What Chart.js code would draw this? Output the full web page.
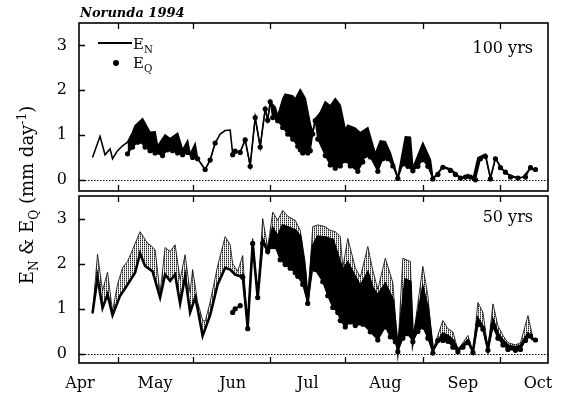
<!DOCTYPE html>
<html><head><meta charset="utf-8">
<script src="https://cdn.jsdelivr.net/npm/chart.js@4.4.0/dist/chart.umd.min.js"></script>
<style>
html,body{margin:0;padding:0;background:#fff;}
#wrap{position:relative;width:565px;height:395px;overflow:hidden;font-family:'DejaVu Serif',serif;color:#000;background:#fff;}
canvas{position:absolute;left:0;}
.t{position:absolute;white-space:nowrap;line-height:1;}
sub,sup{font-size:68%;line-height:0;}
</style></head><body>
<div id="wrap">
<canvas id="c1" width="565" height="195" style="top:0"></canvas>
<canvas id="c2" width="565" height="203" style="top:192px"></canvas>
<div class="t" style="left:80px;top:6px;font-size:13px;font-style:italic;font-weight:bold;">Norunda 1994</div>
<div style="position:absolute;left:98px;top:42px;width:34px;height:2px;background:#000;"></div>
<div class="t" style="left:133px;top:37px;font-size:15px;">E<sub>N</sub></div>
<div style="position:absolute;left:113px;top:60px;width:6px;height:6px;border-radius:50%;background:#000;"></div>
<div class="t" style="left:133px;top:56px;font-size:15px;">E<sub>Q</sub></div>
<div class="t" style="right:32px;top:40px;font-size:16px;">100 yrs</div>
<div class="t" style="right:32px;top:209px;font-size:16px;">50 yrs</div>
<div class="t" style="left:-93px;top:186px;width:240px;text-align:center;font-size:18px;transform:rotate(-90deg);">E<sub>N</sub> &amp; E<sub>Q</sub> (mm day<sup>-1</sup>)</div>
</div>
<script>
// ---- axis data ----
const monthLabels = ['Apr','May','Jun','Jul','Aug','Sep','Oct'];
const monthStartDays = [0,30,61,91,122,153,183];   // days after 1 April
const midMonthDays = [15,45,76,106,137,168];
const yTicks = [0,1,2,3];

// ---- 100 yrs panel ----
const topENDays = [5,8,10,12,13,15,17,19,21,22,25,28,30,31,34,36,39,41,43,44,46,47,50,52,54,56,58,60,61,63,64,66,68,70,72,74,75,76,78,79,81,82,85,86,88,90,92,93,94,96,98,100,102,104,106,107,110,112,115,118,120,122,124,127,130,132,133,137,140,141,143,145,148,150,152,154,155,157,159,162,164,166,168,170,172,175,177,180,182];
const topEN = [0.50,0.97,0.56,0.69,0.47,0.65,0.76,0.84,1.06,1.21,1.36,1.06,1.07,0.75,1.00,0.92,1.04,0.67,0.87,0.57,0.80,0.47,0.23,0.44,0.82,1.02,1.10,1.11,0.58,0.62,0.62,0.90,0.32,1.39,0.74,1.58,1.33,1.74,1.62,1.42,1.80,1.91,1.87,1.80,2.01,1.82,1.25,1.05,1.36,1.50,1.74,1.65,1.81,1.66,1.12,1.22,1.15,1.05,1.16,0.58,0.87,0.85,0.60,0.04,0.96,0.95,0.26,0.82,0.45,0.03,0.15,0.30,0.24,0.15,0.04,0.08,0.12,0.01,0.49,0.57,0.04,0.49,0.30,0.15,0.10,0.04,0.06,0.26,0.19];
const topEQDays = [19,21,23,24,26,28,30,33,35,37,39,41,43,45,47,50,52,54,57,61,62,64,66,68,70,72,74,75,76,77,79,81,83,85,87,88,89,91,92,93,94,95,98,100,102,104,106,108,111,113,114,116,119,121,123,125,127,129,131,133,135,137,139,141,143,145,148,150,152,154,156,158,160,162,164,166,168,170,172,175,178,180,182];
const topEQ = [0.58,0.73,0.84,0.86,0.73,0.65,0.60,0.54,0.67,0.65,0.60,0.56,0.61,0.50,0.47,0.23,0.44,0.82,null,0.56,0.64,0.61,0.89,0.30,1.39,0.73,1.58,1.33,1.74,1.39,1.32,1.17,1.02,0.91,0.75,0.67,0.60,0.60,0.65,1.02,1.32,0.91,0.54,0.33,0.26,0.31,0.43,0.31,0.19,0.40,0.54,0.51,0.19,0.47,0.47,0.31,0.03,0.35,0.30,0.20,0.30,0.45,0.30,0.02,0.12,0.28,0.21,0.12,0.04,0.06,0.06,0.00,0.47,0.52,0.02,0.47,0.27,0.17,0.06,0.04,0.06,0.27,0.23];

// ---- 50 yrs panel ----
const botUpperDays = [5,7,9,11,13,15,17,19,21,24,27,28,30,32,34,36,38,40,42,44,45,47,49,50,52,55,58,60,61,63,65,67,69,71,73,75,77,79,81,83,86,88,90,91,93,95,98,100,102,104,105,107,110,112,115,117,119,122,125,127,129,132,133,137,139,141,145,147,149,151,155,157,159,161,163,165,167,169,171,174,176,179,181];
const botUpper = [0.90,2.21,1.40,1.81,0.95,1.54,1.91,2.05,2.31,2.71,2.45,2.42,2.31,1.35,2.36,2.27,2.42,1.65,2.20,1.36,1.87,1.15,0.75,0.72,1.15,1.95,2.60,2.42,2.00,1.83,2.18,0.62,2.56,1.30,3.00,2.35,3.14,2.96,3.18,3.05,2.96,2.74,2.02,1.15,2.82,2.86,2.82,2.74,2.71,2.60,1.91,2.56,1.91,1.70,2.38,1.85,1.43,2.12,1.58,0.09,2.12,2.05,0.30,1.94,1.29,0.09,0.74,0.56,0.49,0.09,0.41,0.05,1.14,0.92,0.11,1.11,0.62,0.41,0.25,0.20,0.25,0.85,0.35];
const botENDays = [5,7,9,11,13,16,18,22,24,26,29,32,34,36,38,40,42,44,46,47,49,52,55,58,60,62,64,65,67,69,71,73,75,77,79,81,86,88,90,91,93,95,98,101,104,105,107,110,112,115,117,119,122,125,127,130,132,133,137,139,141,145,147,149,151,155,157,159,161,163,165,167,169,171,174,176,179,181];
const botEN = [0.90,1.70,1.02,1.32,0.86,1.29,1.45,1.80,2.23,1.95,1.83,1.25,1.76,1.62,1.76,1.12,1.72,0.92,1.25,1.00,0.40,0.86,1.54,1.91,1.87,1.76,1.72,1.75,0.60,2.45,1.25,2.53,2.27,2.78,2.60,2.85,2.74,2.60,1.80,1.13,2.38,2.60,2.58,2.53,2.02,1.85,2.02,1.70,1.50,1.80,1.45,1.30,1.55,1.20,0.09,1.65,1.60,0.28,1.46,1.00,0.09,0.45,0.40,0.30,0.09,0.30,0.05,0.78,0.60,0.11,0.75,0.45,0.30,0.18,0.15,0.18,0.45,0.31];
const botEQEarlyDays = [61,62,64];
const botEQEarly = [0.92,1.00,1.07];
const botEQDays = [65,67,69,71,73,75,77,78,80,82,84,86,87,89,91,93,94,97,99,101,103,104,106,108,110,113,116,119,122,124,126,127,129,131,133,135,137,139,141,143,145,147,149,151,153,155,157,159,161,163,165,167,169,171,174,176,178,180,182];
const botEQ = [1.70,0.56,2.45,1.25,2.45,2.27,2.38,2.38,2.09,1.98,1.90,1.80,1.72,1.54,1.12,1.90,1.87,1.60,1.29,1.03,0.92,0.74,0.60,0.71,0.63,0.66,0.49,0.31,0.60,0.38,0.27,0.05,0.35,0.45,0.27,0.50,0.60,0.35,0.02,0.30,0.30,0.28,0.15,0.05,0.15,0.25,0.03,0.65,0.55,0.08,0.60,0.35,0.20,0.10,0.08,0.10,0.30,0.40,0.31];

const pts = (d, v) => d.map((x, i) => ({x, y: v[i]}));

function stipple() {
  const c = document.createElement('canvas'); c.width = 2; c.height = 2;
  const g = c.getContext('2d');
  g.fillStyle = '#222'; g.fillRect(0, 0, 1, 1);
  g.fillStyle = '#999'; g.fillRect(0, 1, 1, 1);
  return g.createPattern(c, 'repeat');
}

const framePlugin = {
  id: 'frame',
  beforeDatasetsDraw(chart) {
    const {ctx, chartArea: a, scales: {y}} = chart;
    const z = Math.round(y.getPixelForValue(0)) + 0.5;
    ctx.save();
    ctx.strokeStyle = '#000'; ctx.lineWidth = 1; ctx.setLineDash([1.5, 1.5]);
    ctx.beginPath(); ctx.moveTo(a.left, z); ctx.lineTo(a.right, z); ctx.stroke();
    ctx.restore();
  },
  afterDatasetsDraw(chart) {
    const {ctx, chartArea: a, scales: {x, y}} = chart;
    ctx.save();
    ctx.strokeStyle = '#000'; ctx.lineWidth = 1.6;
    ctx.strokeRect(a.left, a.top, a.right - a.left, a.bottom - a.top);
    ctx.lineWidth = 1.3;
    ctx.beginPath();
    midMonthDays.forEach(d => {
      const px = Math.round(x.getPixelForValue(d)) + 0.5;
      ctx.moveTo(px, a.bottom); ctx.lineTo(px, a.bottom - 6);
      ctx.moveTo(px, a.top); ctx.lineTo(px, a.top + 6);
    });
    yTicks.forEach(v => {
      const py = Math.round(y.getPixelForValue(v)) + 0.5;
      ctx.moveTo(a.left, py); ctx.lineTo(a.left + 6, py);
    });
    ctx.stroke();
    ctx.restore();
  }
};

const tickFont = {family: 'DejaVu Serif', size: 16};
function yScale(min) {
  return {
    min, max: 3.5,
    afterFit(s) { s.width = 79; s.paddingTop = 0; s.paddingBottom = 0; },
    afterBuildTicks(s) { s.ticks = yTicks.map(v => ({value: v})); },
    grid: {display: false, drawTicks: false}, border: {display: false},
    ticks: {color: '#000', font: tickFont, padding: 12}
  };
}
const baseOpts = {
  responsive: false, animation: false, devicePixelRatio: 1,
  plugins: {legend: {display: false}, tooltip: {enabled: false}},
  elements: {line: {tension: 0}}
};

new Chart(document.getElementById('c1'), {
  type: 'line',
  data: {datasets: [
    {label: 'E_N', data: pts(topENDays, topEN), borderColor: '#000', borderWidth: 1.6, pointRadius: 0, fill: false, order: 0},
    {label: 'E_Q', data: pts(topEQDays, topEQ), borderColor: '#000', borderWidth: 1.2, pointRadius: 2.6, pointBackgroundColor: '#000', pointBorderWidth: 0,
     backgroundColor: '#000', fill: {target: 0}, spanGaps: false, order: 1}
  ]},
  options: Object.assign({}, baseOpts, {
    layout: {padding: {left: 0, right: 17, top: 23, bottom: 3}},
    scales: {
      x: {type: 'linear', min: -0.4, max: 187, display: false},
      y: yScale(-0.25)
    }
  }),
  plugins: [framePlugin]
});

new Chart(document.getElementById('c2'), {
  type: 'line',
  data: {datasets: [
    {label: 'upper', data: pts(botUpperDays, botUpper), borderColor: '#000', borderWidth: 0.8, pointRadius: 0, backgroundColor: stipple(), fill: {target: 1}, order: 3},
    {label: 'E_N', data: pts(botENDays, botEN), borderColor: '#000', borderWidth: 2.6, pointRadius: 0, fill: false, order: 0},
    {label: 'E_Q', data: pts(botEQDays, botEQ), borderColor: '#000', borderWidth: 1.2, pointRadius: 2.6, pointBackgroundColor: '#000', pointBorderWidth: 0,
     backgroundColor: '#000', fill: {target: 1}, order: 1},
    {label: 'E_Q early', data: pts(botEQEarlyDays, botEQEarly), borderColor: '#000', borderWidth: 1.5, pointRadius: 2.6, pointBackgroundColor: '#000', pointBorderWidth: 0, fill: false, order: 2}
  ]},
  options: Object.assign({}, baseOpts, {
    layout: {padding: {left: 0, right: 17, top: 2, bottom: 0}},
    scales: {
      x: {type: 'linear', min: -0.4, max: 187,
          afterBuildTicks(s) { s.ticks = monthStartDays.map(v => ({value: v})); },
          afterFit(s) { s.height = 32; s.paddingLeft = 0; s.paddingRight = 0; },
          grid: {display: false, drawTicks: false}, border: {display: false},
          ticks: {autoSkip: false, maxRotation: 0, padding: 11, color: '#000', font: tickFont,
                  callback: (v, i) => monthLabels[i]}},
      y: yScale(-0.2)
    }
  }),
  plugins: [framePlugin]
});
</script>
</body></html>
